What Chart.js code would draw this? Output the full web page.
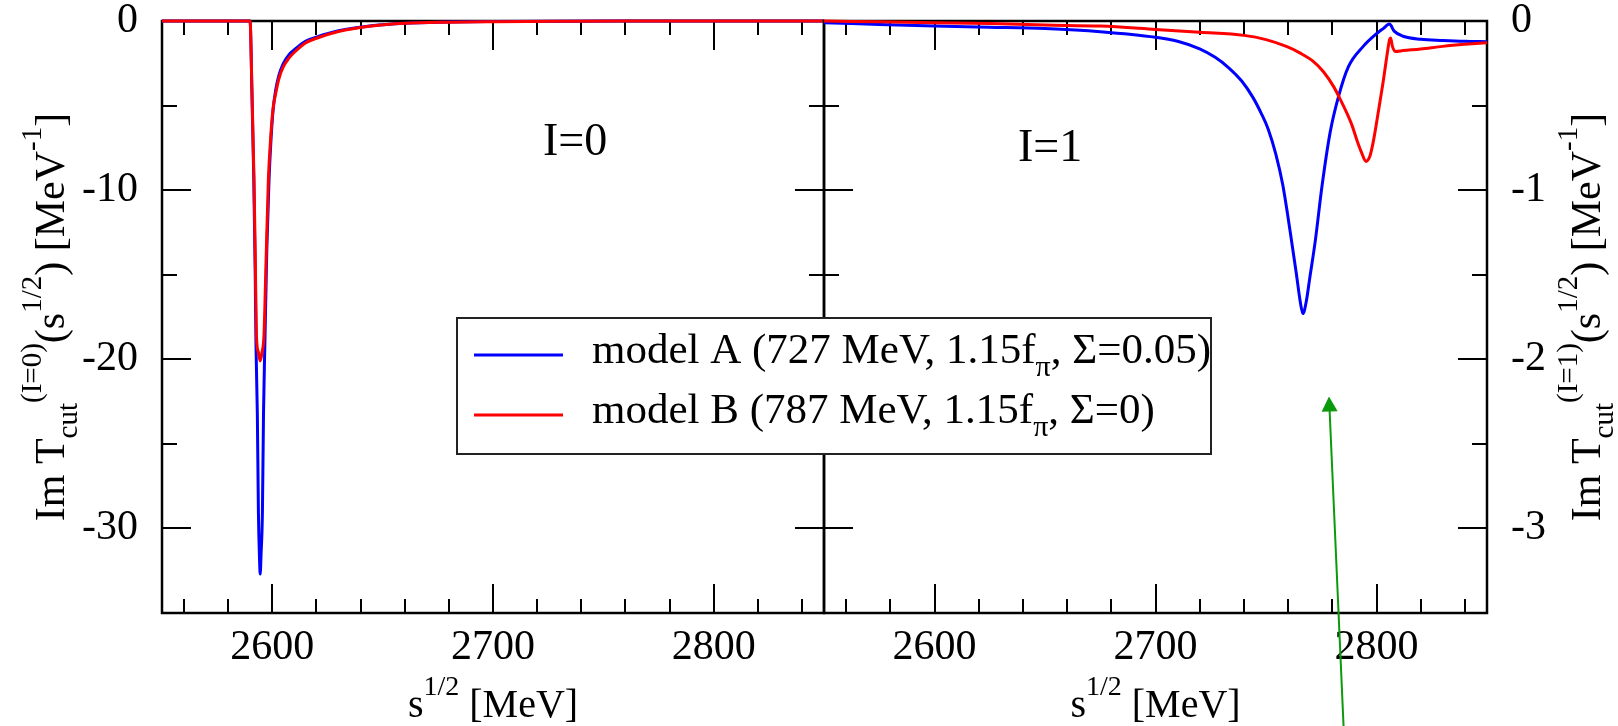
<!DOCTYPE html>
<html>
<head>
<meta charset="utf-8">
<title>Im T_cut, I=0 and I=1</title>
<script src="https://cdn.jsdelivr.net/npm/chart.js@4.4.1/dist/chart.umd.min.js"></script>
<style>
  html, body { margin: 0; padding: 0; background: #fff; }
  #wrap { position: relative; width: 1618px; height: 726px; }
  #wrap canvas { position: absolute; left: 0; top: 0; }
</style>
</head>
<body>
<div id="wrap">
  <canvas id="leftChart" width="1618" height="726"></canvas>
  <canvas id="rightChart" width="1618" height="726"></canvas>
</div>
<script>
// Data

// shared s^{1/2} axis (MeV)
const sMin = 2550;
const sMax = 2850;
const sTicks = [2560, 2580, 2600, 2620, 2640, 2660, 2680, 2700, 2720, 2740, 2760, 2780, 2800, 2820, 2840];

// I=0 panel, left axis
const yTicksI0 = [-35, -30, -25, -20, -15, -10, -5, 0];
const sI0A = [2550, 2570, 2589.9, 2590.8, 2591.6, 2592.2, 2592.6, 2593.2, 2593.7, 2594.2, 2594.5, 2594.9, 2595.5, 2596.0, 2596.6, 2597.5, 2598.5, 2599.4, 2600.4, 2601.5, 2603, 2605, 2607.5, 2610, 2615, 2620, 2630, 2645, 2660, 2680, 2700, 2730, 2760, 2800, 2850];
const imI0A = [0, 0, 0, -4.5, -9.4, -14.5, -19.2, -23.2, -29.1, -31.8, -32.7, -31.5, -29.1, -23.2, -19.2, -13.5, -9.4, -7.0, -5.2, -4.1, -3.2, -2.5, -2.0, -1.7, -1.2, -0.95, -0.58, -0.28, -0.13, -0.06, -0.03, -0.01, 0, 0, 0];
const sI0B = [2550, 2570, 2589.9, 2590.8, 2591.7, 2592.3, 2592.8, 2593.7, 2594.5, 2595.3, 2596.2, 2597.2, 2598.2, 2599.2, 2600.3, 2601.5, 2603, 2605, 2607.5, 2610, 2615, 2620, 2630, 2645, 2660, 2680, 2700, 2730, 2760, 2800, 2850];
const imI0B = [0, 0, 0, -4.4, -9.4, -14.3, -18.6, -19.6, -20.1, -19.6, -18.6, -14.0, -9.4, -7.0, -5.2, -4.3, -3.4, -2.7, -2.2, -1.85, -1.3, -1.02, -0.62, -0.3, -0.14, -0.07, -0.04, -0.015, 0, 0, 0];

// I=1 panel, right axis
const yTicksI1 = [-3.5, -3, -2.5, -2, -1.5, -1, -0.5, 0];
const sI1A = [2550, 2575, 2600, 2625, 2650, 2675, 2700, 2710, 2720, 2727, 2733, 2739, 2744, 2748, 2751, 2754.5, 2757.6, 2761, 2763.8, 2765.5, 2766.7, 2768.2, 2769.8, 2772.3, 2775.3, 2779, 2782.8, 2787.3, 2794, 2800.2, 2803, 2805.9, 2808, 2812, 2820, 2830, 2840, 2850];
const imI1A = [-0.01, -0.02, -0.03, -0.037, -0.045, -0.063, -0.096, -0.12, -0.165, -0.215, -0.275, -0.355, -0.45, -0.55, -0.64, -0.79, -0.97, -1.25, -1.5, -1.66, -1.73, -1.66, -1.52, -1.3, -0.98, -0.66, -0.447, -0.27, -0.15, -0.073, -0.045, -0.018, -0.06, -0.09, -0.108, -0.115, -0.12, -0.122];
const sI1B = [2550, 2575, 2600, 2625, 2650, 2675, 2700, 2720, 2740, 2750, 2759.5, 2765.5, 2771.5, 2776, 2780.6, 2783.5, 2786.6, 2789, 2791.1, 2793.3, 2795.2, 2797, 2798.7, 2800.3, 2801.7, 2803, 2804, 2805, 2805.9, 2806.4, 2807.2, 2808.5, 2812, 2820, 2830, 2840, 2850];
const imI1B = [0, -0.005, -0.01, -0.015, -0.024, -0.03, -0.05, -0.067, -0.085, -0.11, -0.152, -0.19, -0.24, -0.3, -0.388, -0.46, -0.545, -0.62, -0.703, -0.78, -0.83, -0.8, -0.703, -0.58, -0.467, -0.36, -0.27, -0.18, -0.11, -0.1, -0.15, -0.18, -0.175, -0.165, -0.15, -0.138, -0.128];

// green arrow, in I=1 data units (tail runs off the bottom)
const arrowTail = { s: 2785.2, im: -4.2 };
const arrowTip = { s: 2778.5, im: -2.22 };

const BLUE = '#0000ff';
const RED = '#ff0000';
const FONT = "'Liberation Serif', 'Times New Roman', serif";

function points(xs, ys) {
    return xs.map((x, i) => ({ x: x, y: ys[i] }));
}

function series(label, xs, ys, color, order) {
    return {
        label: label,
        data: points(xs, ys),
        borderColor: color,
        borderWidth: 3,
        pointRadius: 0,
        cubicInterpolationMode: 'monotone',
        clip: 4,
        order: order
    };
}

// text with sub/superscripts, parts = [[text, ''|'sub'|'sup'], ...]
function richText(ctx, parts, x, y, size, align) {
    const small = Math.round(size * 0.7);
    const fontOf = kind => (kind ? small : size) + 'px ' + FONT;
    const widths = parts.map(p => { ctx.font = fontOf(p[1]); return ctx.measureText(p[0]).width; });
    const total = widths.reduce((a, b) => a + b, 0);
    let cx = align === 'center' ? x - total / 2 : x;
    ctx.textAlign = 'left';
    ctx.textBaseline = 'alphabetic';
    parts.forEach((p, i) => {
        ctx.font = fontOf(p[1]);
        const dy = p[1] === 'sup' ? -size * 0.55 : (p[1] === 'sub' ? size * 0.3 : 0);
        ctx.fillText(p[0], cx, y + dy);
        cx += widths[i];
    });
}

function isMajor(v, step) {
    return Math.abs(v / step - Math.round(v / step)) < 1e-6;
}

// frame plus inward ticks on all four sides
const frameTicks = {
    id: 'frameTicks',
    beforeDatasetsDraw(chart, args, opts) {
        const { ctx, chartArea: a } = chart;
        const xs = chart.scales.x, ys = chart.scales.y;
        ctx.save();
        ctx.strokeStyle = '#000';
        ctx.lineWidth = 2;
        ctx.beginPath();
        xs.ticks.forEach(t => {
            if (t.value <= xs.min || t.value >= xs.max) return;
            const px = Math.round(xs.getPixelForValue(t.value));
            const len = isMajor(t.value, 100) ? 29 : 14;
            ctx.moveTo(px, a.bottom); ctx.lineTo(px, a.bottom - len);
            ctx.moveTo(px, a.top); ctx.lineTo(px, a.top + len);
        });
        ys.ticks.forEach(t => {
            if (t.value <= ys.min || t.value >= ys.max) return;
            const py = Math.round(ys.getPixelForValue(t.value));
            const len = isMajor(t.value, opts.yMajor) ? 29 : 15;
            ctx.moveTo(a.left, py); ctx.lineTo(a.left + len, py);
            ctx.moveTo(a.right, py); ctx.lineTo(a.right - len, py);
        });
        ctx.stroke();
        ctx.lineWidth = 2.5;
        ctx.strokeRect(a.left, a.top, a.right - a.left, a.bottom - a.top);
        ctx.restore();
    }
};

function xScale() {
    return {
        type: 'linear',
        min: sMin,
        max: sMax,
        grid: { display: false },
        border: { display: false },
        afterBuildTicks: s => { s.ticks = sTicks.map(v => ({ value: v })); },
        ticks: {
            autoSkip: false,
            maxRotation: 0,
            padding: 2,
            color: '#000',
            font: { family: FONT, size: 42 },
            callback: v => isMajor(v, 100) ? String(Math.round(v)) : ''
        },
        afterFit: s => { s.height = 113; s.paddingLeft = 0; s.paddingRight = 0; }
    };
}

function yScale(position, tickList, major, width) {
    return {
        type: 'linear',
        position: position,
        min: tickList[0],
        max: tickList[tickList.length - 1],
        grid: { display: false },
        border: { display: false },
        afterBuildTicks: s => { s.ticks = tickList.map(v => ({ value: v })); },
        ticks: {
            autoSkip: false,
            padding: 16,
            color: '#000',
            font: { family: FONT, size: 42 },
            callback: v => isMajor(v, major) ? String(Math.round(v)) : ''
        },
        afterFit: s => { s.width = width; s.paddingTop = 0; s.paddingBottom = 0; }
    };
}

const xTitle = [['s', ''], ['1/2', 'sup'], [' [MeV]', '']];

function yTitle(iso) {
    return [['Im T', ''], ['cut', 'sub'], ['(I=' + iso + ')', 'sup'], ['(s', ''], ['1/2', 'sup'], [') [MeV', ''], ['-1', 'sup'], [']', '']];
}

const leftText = {
    id: 'leftText',
    afterDraw(chart) {
        const { ctx, chartArea: a } = chart;
        ctx.save();
        ctx.fillStyle = '#000';
        richText(ctx, xTitle, (a.left + a.right) / 2, 717, 40, 'center');
        ctx.font = '46px ' + FONT;
        ctx.fillText('I=0', 543, 155);
        ctx.translate(64, (a.top + a.bottom) / 2);
        ctx.rotate(-Math.PI / 2);
        richText(ctx, yTitle(0), 0, 0, 42, 'center');
        ctx.restore();
    }
};

const rightText = {
    id: 'rightText',
    afterDraw(chart) {
        const { ctx, chartArea: a } = chart;
        const xs = chart.scales.x, ys = chart.scales.y;
        ctx.save();
        ctx.fillStyle = '#000';
        richText(ctx, xTitle, (a.left + a.right) / 2, 717, 40, 'center');
        ctx.font = '46px ' + FONT;
        ctx.fillText('I=1', 1018, 161);

        // legend box spanning both panels
        ctx.fillStyle = '#fff';
        ctx.fillRect(457, 318, 754, 136);
        ctx.strokeStyle = '#222';
        ctx.lineWidth = 2;
        ctx.strokeRect(457, 318, 754, 136);
        const rows = [
            { color: BLUE, y: 355, parts: [['model A (727 MeV, 1.15f', ''], ['\u03c0', 'sub'], [', \u03a3=0.05)', '']] },
            { color: RED, y: 415, parts: [['model B (787 MeV, 1.15f', ''], ['\u03c0', 'sub'], [', \u03a3=0)', '']] }
        ];
        rows.forEach(r => {
            ctx.strokeStyle = r.color;
            ctx.lineWidth = 3;
            ctx.beginPath();
            ctx.moveTo(474, r.y);
            ctx.lineTo(563, r.y);
            ctx.stroke();
            ctx.fillStyle = '#000';
            richText(ctx, r.parts, 592, r.y + 8, 43, 'left');
        });

        // green arrow
        const x1 = xs.getPixelForValue(arrowTail.s), y1 = ys.getPixelForValue(arrowTail.im);
        const x2 = xs.getPixelForValue(arrowTip.s), y2 = ys.getPixelForValue(arrowTip.im);
        const ang = Math.atan2(y2 - y1, x2 - x1);
        ctx.strokeStyle = '#0a9a0a';
        ctx.fillStyle = '#0a9a0a';
        ctx.lineWidth = 2;
        ctx.beginPath();
        ctx.moveTo(x1, y1);
        ctx.lineTo(x2 - 12 * Math.cos(ang), y2 - 12 * Math.sin(ang));
        ctx.stroke();
        ctx.beginPath();
        ctx.moveTo(x2, y2);
        ctx.lineTo(x2 - 15 * Math.cos(ang) + 8 * Math.sin(ang), y2 - 15 * Math.sin(ang) - 8 * Math.cos(ang));
        ctx.lineTo(x2 - 15 * Math.cos(ang) - 8 * Math.sin(ang), y2 - 15 * Math.sin(ang) + 8 * Math.cos(ang));
        ctx.closePath();
        ctx.fill();

        ctx.fillStyle = '#000';
        ctx.translate(1600, (a.top + a.bottom) / 2);
        ctx.rotate(-Math.PI / 2);
        richText(ctx, yTitle(1), 0, 0, 42, 'center');
        ctx.restore();
    }
};

const common = {
    responsive: false,
    animation: false,
    devicePixelRatio: 1,
    events: []
};

// Left panel, I=0
new Chart(document.getElementById('leftChart'), {
    type: 'line',
    data: {
        datasets: [
            series('model B', sI0B, imI0B, RED, 0),
            series('model A', sI0A, imI0A, BLUE, 1)
        ]
    },
    options: Object.assign({}, common, {
        layout: { padding: { left: 0, right: 794, top: 21, bottom: 0 } },
        plugins: { legend: { display: false }, tooltip: { enabled: false }, frameTicks: { yMajor: 10 } },
        scales: {
            x: xScale(),
            y: yScale('left', yTicksI0, 10, 162)
        }
    }),
    plugins: [frameTicks, leftText]
});

// Right panel, I=1
new Chart(document.getElementById('rightChart'), {
    type: 'line',
    data: {
        datasets: [
            series('model B', sI1B, imI1B, RED, 0),
            series('model A', sI1A, imI1A, BLUE, 1)
        ]
    },
    options: Object.assign({}, common, {
        layout: { padding: { left: 824, right: 0, top: 21, bottom: 0 } },
        plugins: { legend: { display: false }, tooltip: { enabled: false }, frameTicks: { yMajor: 1 } },
        scales: {
            x: xScale(),
            y: yScale('right', yTicksI1, 1, 131)
        }
    }),
    plugins: [frameTicks, rightText]
});
</script>
</body>
</html>
